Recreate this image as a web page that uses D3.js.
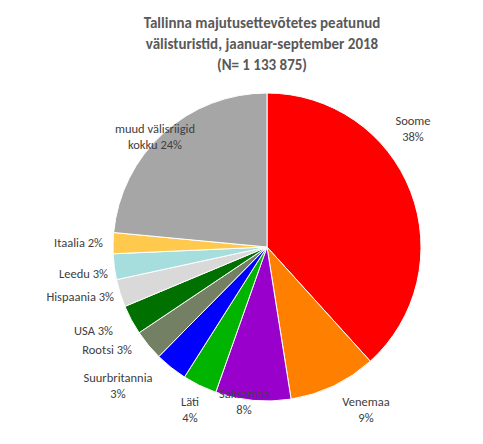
<!DOCTYPE html><html><head><meta charset="utf-8"><script src="https://cdn.jsdelivr.net/npm/d3@7"></script>
<style>body{margin:0;background:#fff}text{font-family:Calibri,Carlito,"Liberation Sans",Arial,sans-serif}</style></head><body>
<svg id="c" width="483" height="444"></svg>
<script>
const categories=["Soome","Venemaa","Saksamaa","Läti","Suurbritannia","Rootsi","USA","Hispaania","Leedu","Itaalia","muud välisriigid kokku"];
const values=[38.3,9.2,7.9,3.6,3.4,3.2,3.1,2.9,2.7,2.2,23.5];
const labels=["38%","9%","8%","4%","3%","3%","3%","3%","3%","2%","24%"];
const colors=["#FF0000","#FF8000","#9900CC","#00B400","#0000FF","#738063","#007000","#D9D9D9","#A6DEDE","#FFC94D","#A6A6A6"];
const titleLines=["Tallinna majutusettevõtetes peatunud","välisturistid, jaanuar-september 2018","(N= 1 133 875)"];
const svg=d3.select("#c");
svg.selectAll("text.t").data(titleLines).join("text").attr("x",262).attr("y",(d,i)=>28+i*21)
 .attr("text-anchor","middle").attr("font-weight","bold").attr("font-size",15).attr("fill","#595959").text(d=>d);
const cx=267,cy=247,r=154;
const g=svg.append("g").attr("transform",`translate(${cx},${cy})`);
const pie=d3.pie().sort(null).value(d=>d)(values);
const arc=d3.arc().innerRadius(0).outerRadius(r);
g.selectAll("path").data(pie).join("path").attr("d",arc).attr("fill",(d,i)=>colors[i]).attr("stroke","#fff").attr("stroke-width",1);
// label layout (relative to pie centre)
const layout=[[146,-122,"middle",2],[99,159,"middle",2],[-23,151,"middle",2],[-77,159,"middle",2],[-149,135,"middle",2],
 [-135,107,"end",1],[-154,88,"end",1],[-153,54,"end",1],[-159,31,"end",1],[-164,0,"end",1],[-112,-114,"middle",3]];
pie.forEach((d,i)=>{
 const [x,y,anchor,mode]=layout[i];
 let lines= mode===3?["muud välisriigid","kokku "+labels[i]]: mode===2?[categories[i],labels[i]]:[categories[i]+" "+labels[i]];
 const t=g.append("text").attr("text-anchor",anchor).attr("font-size",12.5).attr("fill","#404040")
  .attr("transform",`translate(${x},${y})`);
 t.selectAll("tspan").data(lines).join("tspan").attr("x",0).attr("dy",(l,j)=>j?16:0).text(l=>l);
});
</script></body></html>
